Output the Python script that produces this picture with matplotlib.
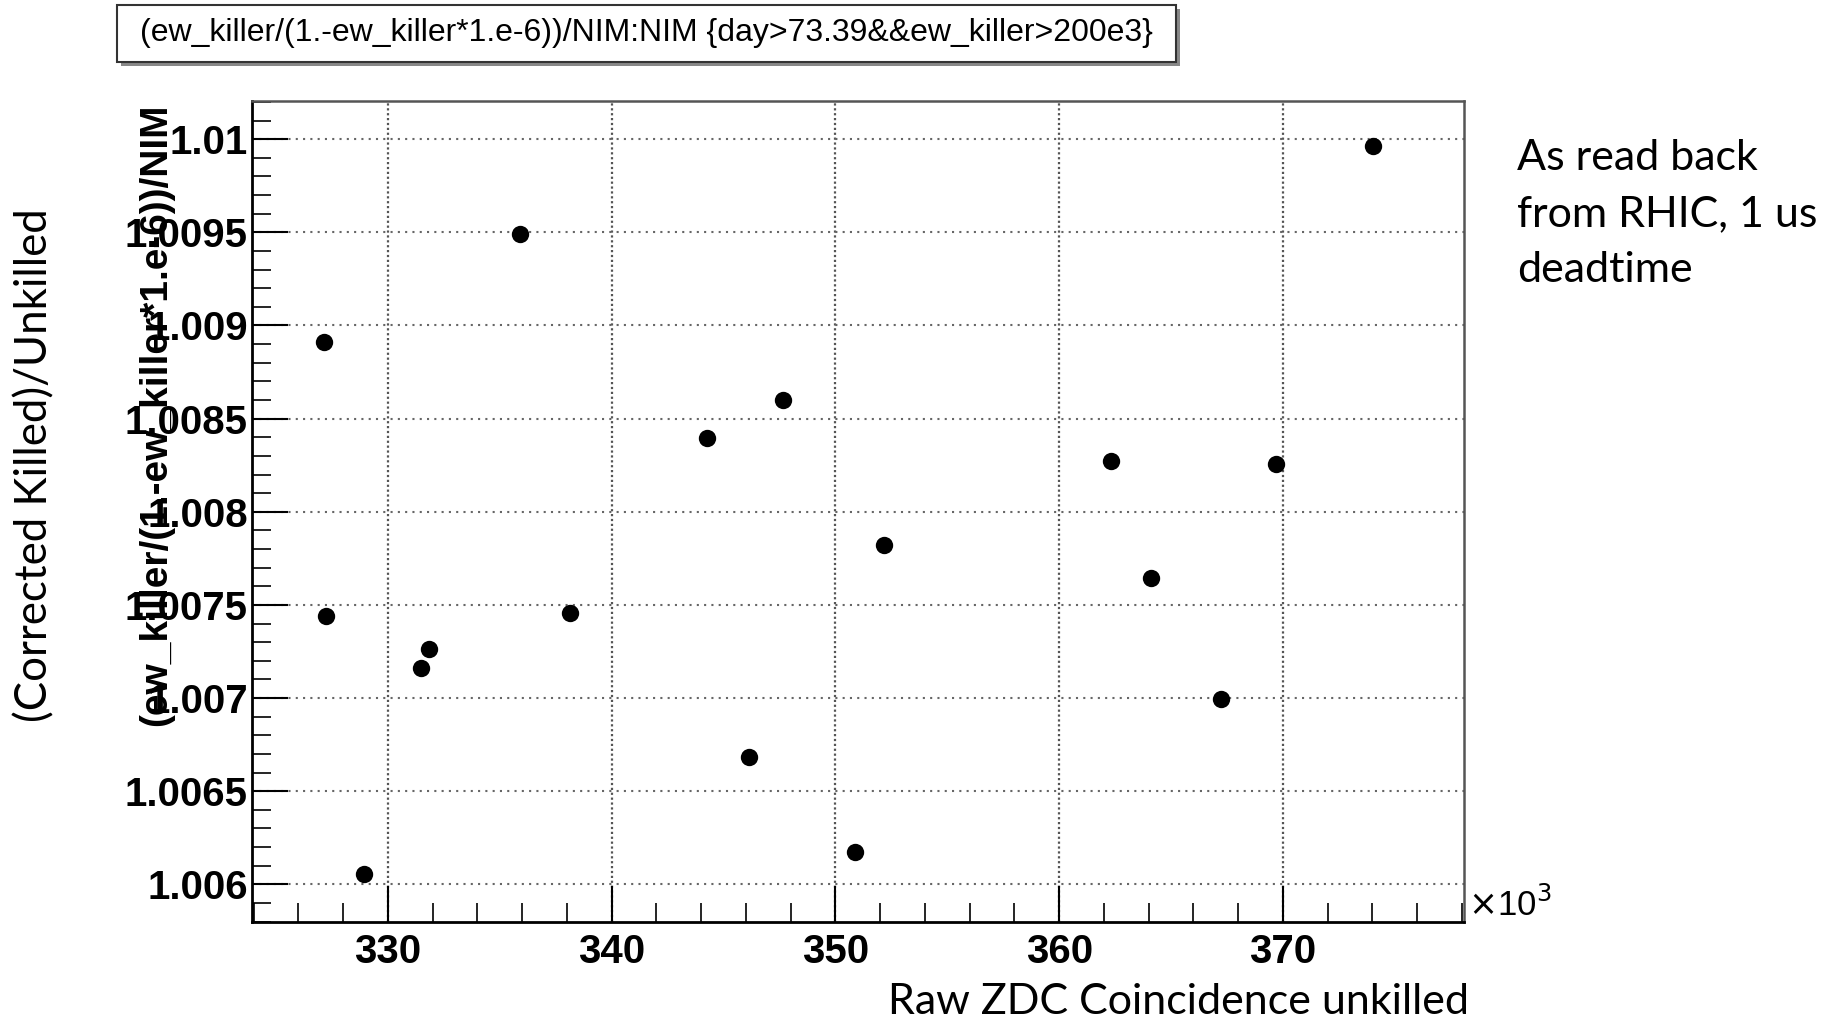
import matplotlib
matplotlib.use("Agg")
import matplotlib.pyplot as plt
from matplotlib.patches import Rectangle
from matplotlib.ticker import MultipleLocator

# ---- data (x in units of 10^3) ----
raw_zdc_k = [327.13, 327.25, 328.92, 331.50, 331.82, 335.91, 338.13, 344.27,
             346.14, 347.67, 350.86, 352.18, 362.31, 364.11, 367.23, 369.69, 374.04]
ratio = [1.008910, 1.007438, 1.006057, 1.007164, 1.007262, 1.009490, 1.007455, 1.008397,
         1.006684, 1.008601, 1.006174, 1.007822, 1.008271, 1.007643, 1.006996, 1.008254, 1.009961]
x_ticks = [330, 340, 350, 360, 370]
y_ticks = [1.006, 1.0065, 1.007, 1.0075, 1.008, 1.0085, 1.009, 1.0095, 1.01]
y_tick_labels = ["1.006", "1.0065", "1.007", "1.0075", "1.008", "1.0085", "1.009", "1.0095", "1.01"]

title_text = "(ew_killer/(1.-ew_killer*1.e-6))/NIM:NIM {day>73.39&&ew_killer>200e3}"
root_ylabel = "(ew_killer/(1.-ew_killer*1.e-6))/NIM"
ppt_ylabel = "(Corrected Killed)/Unkilled"
ppt_xlabel = "Raw ZDC Coincidence unkilled"
note_text = "As read back\nfrom RHIC, 1 us\ndeadtime"

W, H = 1829, 1022
fig = plt.figure(figsize=(W / 100, H / 100), dpi=100)
fig.patch.set_facecolor("white")

def fx(px):
    return px / W

def fy(py):
    return 1 - py / H

L, R, T, B = 252, 1464, 101, 922
ax = fig.add_axes([fx(L), fy(B), fx(R) - fx(L), fy(T) - fy(B)])

ax.plot(raw_zdc_k, ratio, linestyle="none", marker="o", ms=12.5, color="black",
        markeredgewidth=0)

ax.set_xlim(323.93, 378.09)
ax.set_ylim(1.005798, 1.010205)
ax.set_xticks(x_ticks)
ax.set_yticks(y_ticks)
ax.set_yticklabels(y_tick_labels)
ax.xaxis.set_minor_locator(MultipleLocator(2))
ax.yaxis.set_minor_locator(MultipleLocator(0.0001))

for lab in ax.get_xticklabels() + ax.get_yticklabels():
    lab.set_fontfamily("Liberation Sans")
    lab.set_fontweight("bold")
    lab.set_fontsize(29)

ax.tick_params(which="major", direction="in", length=26, width=1.5, color="black",
               top=False, right=False)
ax.tick_params(which="minor", direction="in", length=14, width=1.2, color="black",
               top=False, right=False)
ax.tick_params(axis="y", which="major", pad=3)
ax.tick_params(axis="x", which="major", pad=8)

ax.grid(True, axis="y", which="major", linestyle=(0, (1, 2.5)), color="#666666", linewidth=1.5)
ax.grid(True, axis="x", which="major", linestyle=(0, (1, 1.2)), color="#555555", linewidth=1.6)

for side in ["left", "bottom"]:
    ax.spines[side].set_linewidth(2.0)
    ax.spines[side].set_color("black")
for side in ["top", "right"]:
    ax.spines[side].set_linewidth(1.8)
    ax.spines[side].set_color("#555555")

# ROOT y-axis title (right-aligned at top of axis)
fig.text(fx(156), fy(103), root_ylabel, rotation=90, ha="center", va="top",
         family="Liberation Sans", weight="bold", size=28)

# x10^3
fig.text(fx(1468), fy(905), r"$\times$10$^{3}$", ha="left", va="center",
         family="Liberation Sans", size=25)

# Title pave with shadow
bx0, by0, bx1, by1 = 117, 5, 1176, 62
shadow = Rectangle((fx(bx0 + 4), fy(by1 + 4)), fx(bx1) - fx(bx0), fy(by0) - fy(by1),
                   transform=fig.transFigure, facecolor="#888888", edgecolor="none", zorder=1)
box = Rectangle((fx(bx0), fy(by1)), fx(bx1) - fx(bx0), fy(by0) - fy(by1),
                transform=fig.transFigure, facecolor="white", edgecolor="#333333",
                linewidth=1.5, zorder=2)
fig.patches.extend([shadow, box])
fig.text(fx((bx0 + bx1) / 2), fy((by0 + by1) / 2), title_text, ha="center", va="center",
         family="Liberation Sans", size=23, zorder=3)

# PowerPoint annotations
fig.text(fx(35), fy(465), ppt_ylabel, rotation=90, ha="center", va="center",
         family="Lato", size=31.5)
fig.text(fx(1178), fy(1002), ppt_xlabel, ha="center", va="center",
         family="Lato", size=31)
fig.text(fx(1517), fy(214), note_text, ha="left", va="center",
         family="Lato", size=31, linespacing=1.57)

fig.savefig("out.png", dpi=100, facecolor="white")
